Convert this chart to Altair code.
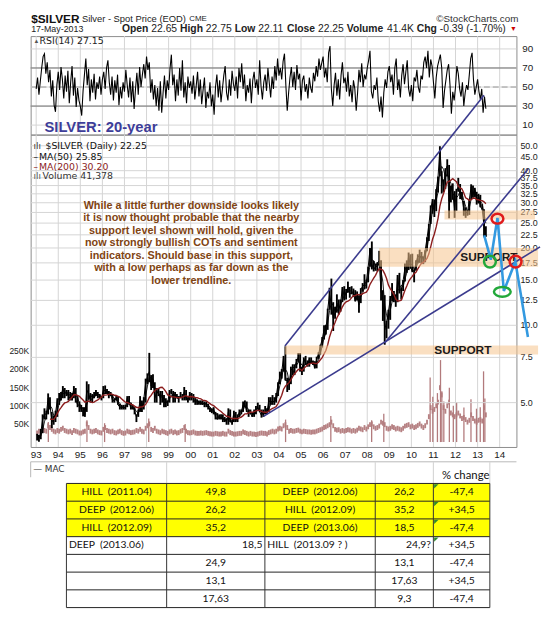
import altair as alt
import pandas as pd

# ------------------------------------------------------------------
# values
# ------------------------------------------------------------------
start_year = 1993  # monthly series start (Jan 1993)

close = [
    3.68, 3.62, 3.81, 4.30, 4.52, 4.50, 5.20, 4.90, 4.20, 4.30, 4.55, 5.10,
    5.20, 5.35, 5.65, 5.40, 5.50, 5.30, 5.20, 5.30, 5.65, 5.15, 4.90, 4.88,
    4.70, 4.60, 4.50, 5.60, 5.40, 5.10, 5.20, 5.35, 5.50, 5.30, 5.30, 5.20,
    5.60, 5.55, 5.50, 5.35, 5.40, 5.10, 5.10, 5.20, 4.90, 4.80, 4.80, 4.75,
    4.80, 5.20, 5.00, 4.75, 4.80, 4.65, 4.40, 4.60, 5.10, 4.80, 5.15, 5.95,
    6.30, 6.60, 5.80, 6.10, 5.20, 5.50, 5.45, 5.20, 5.30, 5.00, 5.00, 5.00,
    5.50, 5.50, 5.20, 5.40, 5.20, 5.20, 5.30, 5.20, 5.50, 5.20, 5.10, 5.40,
    5.30, 5.20, 5.00, 5.05, 5.00, 5.00, 4.90, 5.00, 4.90, 4.80, 4.70, 4.60,
    4.70, 4.40, 4.30, 4.40, 4.35, 4.30, 4.30, 4.20, 4.60, 4.20, 4.20, 4.55,
    4.25, 4.40, 4.60, 4.60, 4.90, 4.90, 4.60, 4.60, 4.55, 4.40, 4.60, 4.70,
    4.80, 4.60, 4.45, 4.60, 4.55, 4.60, 5.10, 5.00, 5.10, 5.00, 5.30, 5.90,
    6.30, 6.60, 7.50, 6.10, 6.10, 5.90, 6.70, 6.80, 6.90, 7.20, 7.50, 6.80,
    6.70, 7.40, 7.10, 7.00, 7.40, 7.10, 7.20, 6.80, 7.40, 7.70, 8.30, 8.80,
    9.60, 9.50, 11.50, 13.20, 12.00, 10.70, 11.20, 12.20, 11.50, 12.20, 14.00, 12.90,
    13.40, 14.10, 13.30, 13.40, 13.30, 12.40, 12.90, 12.00, 13.80, 14.20, 14.40, 14.80,
    16.80, 19.80, 17.30, 16.50, 16.90, 17.50, 17.80, 13.50, 12.90, 9.60, 10.30, 11.30,
    12.60, 13.10, 13.10, 12.30, 15.60, 13.60, 13.80, 14.90, 16.70, 16.40, 18.60, 16.90,
    16.20, 16.30, 17.50, 18.60, 18.40, 18.70, 18.00, 19.60, 21.80, 24.60, 28.50, 30.60,
    27.90, 33.40, 37.90, 48.60, 38.10, 34.70, 40.10, 41.70, 30.40, 34.80, 32.70, 28.20,
    33.20, 34.60, 32.30, 31.30, 28.30, 27.60, 27.40, 30.90, 34.60, 32.30, 33.80, 30.00,
    31.90, 29.00, 28.30, 24.30, 22.25,
]

high = [
    3.78, 3.75, 3.95, 4.50, 4.75, 4.65, 5.43, 5.25, 4.60, 4.45, 4.65, 5.20,
    5.45, 5.50, 5.80, 5.70, 5.60, 5.60, 5.50, 5.45, 5.80, 5.70, 5.30, 5.05,
    4.90, 4.80, 4.80, 6.05, 5.90, 5.45, 5.40, 5.50, 5.60, 5.50, 5.40, 5.30,
    5.80, 5.83, 5.65, 5.55, 5.50, 5.40, 5.20, 5.30, 5.30, 4.95, 4.90, 4.90,
    4.90, 5.30, 5.30, 5.00, 4.90, 4.80, 4.50, 4.70, 5.30, 5.10, 5.25, 6.20,
    6.50, 7.81, 6.40, 6.45, 6.00, 5.70, 5.70, 5.55, 5.55, 5.35, 5.20, 5.10,
    5.60, 5.65, 5.55, 5.50, 5.40, 5.30, 5.50, 5.40, 5.75, 5.60, 5.25, 5.50,
    5.45, 5.40, 5.20, 5.15, 5.10, 5.10, 5.10, 5.05, 5.05, 4.95, 4.80, 4.75,
    4.80, 4.60, 4.55, 4.50, 4.50, 4.50, 4.40, 4.35, 4.75, 4.70, 4.30, 4.65,
    4.60, 4.50, 4.70, 4.70, 5.05, 5.10, 5.05, 4.70, 4.70, 4.60, 4.70, 4.85,
    5.00, 4.90, 4.70, 4.70, 4.85, 4.75, 5.25, 5.25, 5.35, 5.25, 5.45, 6.00,
    6.60, 6.75, 7.60, 8.29, 6.25, 6.20, 6.90, 7.05, 7.05, 7.40, 7.80, 7.80,
    6.90, 7.50, 7.60, 7.30, 7.50, 7.50, 7.30, 7.25, 7.55, 7.85, 8.40, 9.00,
    10.00, 10.05, 11.60, 14.00, 15.20, 12.30, 11.80, 13.20, 12.60, 12.60, 14.10, 14.20,
    13.85, 14.80, 14.10, 14.20, 13.90, 13.70, 13.55, 13.10, 13.95, 14.60, 15.80, 15.05,
    16.90, 20.00, 21.20, 17.80, 17.40, 17.60, 19.50, 17.90, 13.70, 13.10, 10.40, 11.50,
    13.00, 14.60, 13.60, 13.20, 15.70, 16.00, 14.00, 15.00, 17.40, 17.90, 19.20, 18.90,
    19.00, 16.50, 17.90, 18.90, 19.70, 19.30, 18.50, 19.60, 22.00, 24.80, 29.30, 31.00,
    30.90, 33.90, 38.00, 49.80, 39.80, 37.00, 40.90, 44.30, 42.10, 35.00, 35.70, 33.30,
    34.00, 37.50, 35.50, 33.00, 30.50, 28.80, 28.00, 31.00, 35.40, 35.00, 34.30, 33.10,
    32.50, 32.20, 29.60, 28.30, 24.30,
]

low = [
    3.56, 3.52, 3.60, 3.80, 4.30, 4.30, 4.50, 4.70, 3.98, 4.10, 4.20, 4.40,
    4.90, 5.10, 5.20, 5.20, 5.30, 5.10, 5.10, 5.10, 5.20, 5.00, 4.80, 4.60,
    4.60, 4.42, 4.40, 4.60, 5.15, 5.00, 5.00, 5.20, 5.30, 5.20, 5.20, 5.10,
    5.20, 5.40, 5.40, 5.20, 5.30, 5.00, 5.00, 5.10, 4.90, 4.70, 4.70, 4.70,
    4.70, 4.80, 4.90, 4.70, 4.70, 4.50, 4.20, 4.40, 4.60, 4.60, 4.70, 5.00,
    5.90, 6.00, 5.60, 5.70, 5.00, 5.00, 5.30, 4.90, 5.00, 4.80, 4.80, 4.85,
    5.00, 5.40, 5.00, 5.00, 5.20, 5.00, 5.20, 5.10, 5.10, 5.10, 5.00, 5.10,
    5.10, 5.00, 4.90, 4.90, 4.90, 4.90, 4.90, 4.80, 4.80, 4.70, 4.60, 4.55,
    4.50, 4.30, 4.30, 4.30, 4.30, 4.20, 4.20, 4.10, 4.10, 4.20, 4.10, 4.20,
    4.20, 4.20, 4.40, 4.50, 4.60, 4.80, 4.60, 4.40, 4.50, 4.40, 4.40, 4.50,
    4.70, 4.60, 4.37, 4.40, 4.50, 4.50, 4.60, 4.90, 4.90, 4.90, 5.00, 5.30,
    5.90, 6.20, 6.60, 6.10, 5.50, 5.60, 5.90, 6.40, 6.40, 6.80, 7.20, 6.60,
    6.40, 6.60, 7.00, 6.90, 6.90, 7.10, 7.00, 6.80, 6.80, 7.40, 7.70, 8.20,
    8.80, 9.20, 9.60, 11.50, 11.00, 9.50, 10.60, 11.20, 11.00, 11.30, 12.30, 12.50,
    12.60, 13.40, 12.80, 13.20, 12.90, 12.40, 12.50, 11.20, 12.20, 13.50, 13.80, 13.90,
    14.70, 16.90, 16.50, 16.20, 16.30, 16.20, 17.10, 12.50, 10.40, 8.40, 8.90, 9.70,
    10.50, 12.40, 12.30, 11.80, 12.30, 13.30, 12.60, 13.60, 14.80, 16.00, 16.40, 16.60,
    16.10, 14.70, 16.30, 17.40, 17.50, 17.40, 17.30, 17.60, 19.40, 21.30, 24.80, 27.20,
    26.40, 27.80, 32.90, 38.00, 32.60, 33.00, 34.00, 38.00, 26.10, 30.10, 30.80, 26.20,
    27.90, 33.10, 31.00, 30.80, 26.70, 26.20, 26.70, 26.90, 30.90, 31.40, 31.60, 29.50,
    29.80, 28.80, 28.20, 22.00, 22.10,
]

volume_k = [
    25, 30, 28, 35, 32, 30, 45, 40, 35, 30, 28, 32,
    30, 35, 38, 32, 30, 28, 30, 26, 32, 30, 28, 25,
    25, 28, 30, 50, 40, 30, 28, 30, 32, 28, 26, 25,
    35, 40, 32, 30, 28, 30, 26, 25, 28, 30, 26, 24,
    25, 30, 28, 26, 27, 28, 32, 30, 35, 30, 28, 38,
    45, 50, 35, 32, 38, 30, 28, 26, 30, 28, 26, 24,
    28, 30, 26, 28, 25, 26, 30, 32, 40, 30, 26, 25,
    26, 28, 25, 24, 24, 25, 24, 25, 26, 24, 23, 22,
    22, 24, 23, 22, 22, 24, 22, 22, 30, 26, 24, 22,
    22, 23, 24, 24, 28, 26, 24, 22, 24, 22, 22, 21,
    22, 24, 25, 24, 24, 22, 26, 28, 30, 28, 30, 36,
    38, 36, 45, 48, 40, 30, 32, 30, 30, 32, 33, 30,
    28, 30, 29, 28, 28, 27, 28, 28, 30, 32, 34, 36,
    40, 42, 45, 48, 55, 45, 35, 33, 34, 30, 32, 30,
    32, 34, 33, 30, 32, 30, 33, 38, 36, 34, 40, 36,
    42, 48, 50, 42, 38, 40, 44, 55, 52, 48, 38, 36,
    38, 42, 40, 36, 38, 36, 34, 38, 44, 46, 48, 42,
    44, 40, 42, 46, 50, 44, 40, 45, 55, 70, 95, 85,
    90, 100, 110, 150, 130, 95, 85, 100, 110, 80, 75, 70,
    75, 80, 72, 65, 68, 62, 55, 60, 75, 65, 58, 55,
    60, 62, 58, 95, 75,
]

spike_year = [1993.55, 1995.30, 1996.10, 1998.10, 1999.75, 2004.30, 2006.35, 2008.20,
              2008.75, 2010.85, 2010.97, 2011.18, 2011.32, 2011.38, 2011.47, 2011.72,
              2011.90, 2012.05, 2012.38, 2012.70, 2012.95, 2013.12, 2013.27, 2013.33]
spike_k = [55, 60, 52, 65, 50, 62, 72, 60, 78, 178, 125, 135, 226, 140, 112, 150,
           100, 110, 95, 118, 92, 96, 195, 120]

rsi_per_year = 16
rsi = [
    48, 60, 42, 56, 70, 82, 85, 64, 76, 55, 68, 40, 57, 31, 24, 52,
    66, 47, 71, 58, 38, 62, 45, 67, 33, 55, 72, 41, 60, 29, 49, 36,
    30, 20, 46, 63, 80, 52, 69, 35, 58, 44, 64, 37, 55, 48, 61, 42,
    58, 66, 48, 70, 78, 55, 42, 61, 36, 57, 44, 63, 31, 50, 38, 55,
    45, 68, 52, 39, 60, 34, 56, 27, 48, 65, 42, 71, 50, 63, 74, 59,
    82, 68, 76, 44, 58, 37, 52, 30, 49, 25, 56, 23, 44, 62, 38, 57,
    47, 69, 84, 52, 63, 35, 58, 41, 70, 46, 78, 39, 55, 33, 61, 49,
    56, 43, 62, 37, 51, 66, 40, 58, 32, 47, 60, 28, 45, 38, 55, 30,
    42, 21, 50, 63, 39, 57, 34, 48, 62, 72, 44, 36, 58, 41, 67, 53,
    46, 61, 38, 70, 55, 75, 48, 63, 35, 52, 44, 59, 33, 57, 66, 49,
    58, 42, 78, 51, 37, 55, 63, 46, 70, 54, 39, 61, 48, 72, 57, 80,
    62, 70, 58, 77, 85, 52, 25, 44, 60, 71, 50, 66, 47, 73, 58, 64,
    36, 57, 62, 45, 53, 38, 60, 49, 44, 65, 56, 72, 61, 80, 68, 75,
    82, 60, 70, 55, 86, 93, 48, 30, 52, 65, 41, 58, 37, 62, 76, 54,
    60, 45, 66, 40, 52, 34, 57, 48, 25, 44, 68, 55, 75, 50, 63, 58,
    70, 78, 88, 45, 38, 52, 47, 60, 35, 24, 40, 18, 44, 58, 49, 66,
    72, 55, 63, 42, 70, 80, 47, 58, 39, 62, 74, 53, 66, 78, 48, 40,
    52, 35, 60, 56, 68, 50, 44, 62, 58, 76, 82, 70, 88, 60, 79, 72,
    55, 38, 60, 72, 78, 84, 70, 28, 46, 57, 68, 74, 52, 22, 45, 36,
    50, 72, 64, 48, 40, 55, 30, 44, 52, 47, 63, 80, 86, 58, 42, 50,
    58, 45, 37, 48, 23, 40, 27.15,
]
rsi_levels = [30, 70]
rsi_mid_level = [50]

# hand-drawn trend lines: start (year, price) -> end (year, price)
trend_id = ["upper", "middle", "lower"]
trend_t0 = [2004.27, 2008.80, 2003.30]
trend_p0 = [8.30, 8.55, 4.42]
trend_t1 = [2013.29, 2015.29, 2015.83]
trend_p1 = [78.7, 40.6, 20.2]

# hand-drawn projection path
proj_t = [2013.30, 2013.60, 2013.90, 2014.19, 2014.71, 2015.28]
proj_p = [22.4, 18.0, 26.2, 13.6, 17.7, 9.0]

# support bands
band_t0 = [2011.50, 2008.54, 2004.27]
band_t1 = [2015.60, 2015.74, 2015.74]
band_lo = [25.8, 16.9, 7.70]
band_hi = [28.0, 20.0, 8.35]

# table
tab_c1 = ["HILL\u00a0 (2011.04)", "DEEP\u00a0 (2012.06)", "HILL\u00a0 (2012.09)", "DEEP\u00a0 (2013.06)", "", "", ""]
tab_c2 = ["49,8", "26,2", "35,2", "18,5", "24,9", "13,1", "17,63"]
tab_c3 = ["DEEP\u00a0 (2012.06)", "HILL\u00a0 (2012.09)", "DEEP\u00a0 (2013.06)", "HILL\u00a0 (2013.09 ? )", "", "", ""]
tab_c4 = ["26,2", "35,2", "18,5", "24,9?", "13,1", "17,63", "9,3"]
tab_c5 = ["-47,4", "+34,5", "-47,4", "+34,5", "-47,4", "+34,5", "-47,4"]

price_ticks = [5, 7.5, 10, 12.5, 15, 17.5, 20, 22.5, 25, 27.5, 30, 32.5, 35, 37.5, 40, 45, 50]
volume_ticks = [50000, 100000, 150000, 200000, 250000]
rsi_ticks = [10, 30, 50, 70, 90]
year_ticks = list(range(1993, 2015))

paragraph = [
    "While a little further downside looks likely",
    "it is now thought probable that the nearby",
    "support level shown will hold, given the",
    "now strongly bullish COTs and sentiment",
    "indicators. Should base in this support,",
    "with a low perhaps as far down as the",
    "lower trendline.",
]

# ------------------------------------------------------------------
# layout / style
# ------------------------------------------------------------------
W = 493
RSI_H = 100
PRICE_H = 317
TABLE_H = 164
X_DOMAIN = [1992.75, 2014.76]
P_DOMAIN = [3.359, 55.25]
V_DOMAIN = [0, 834000]
R_DOMAIN = [0, 103.5]
TAB_Y_DOMAIN = [-2.056, 7.056]
TAB_EDGES = [36.3, 138.0, 237.7, 349.7, 408.7, 466.0]
TAB_ALIGN = [["c"] * 5] * 3 + [["l", "r", "l", "r", "c"]] + [["c"] * 5] * 3

FONT = "Liberation Sans"
GRID = "#d4d4d4"
TREND = "#3b3b8e"
PROJ = "#3399e0"
BAND = "#f5c48e"
VOLC = "#b27a7c"
LABC = "#222222"

xs = alt.Scale(domain=X_DOMAIN, nice=False, zero=False)
ps = alt.Scale(type="log", domain=P_DOMAIN, nice=False, zero=False)
vs = alt.Scale(domain=V_DOMAIN, nice=False, zero=False)
rs = alt.Scale(domain=R_DOMAIN, nice=False, zero=False)
one = pd.DataFrame({"k": [0]})


def px_text(text, x, y, size, color=LABC, weight="normal", align="left", font=FONT):
    return alt.Chart(one).mark_text(
        text=text, align=align, baseline="middle", fontSize=size,
        fontWeight=weight, color=color, font=font,
    ).encode(x=alt.value(x), y=alt.value(y))


def X(field="t"):
    return alt.X(f"{field}:Q", scale=xs, axis=None)


def P(field="p"):
    return alt.Y(f"{field}:Q", scale=ps, axis=None)


def data_text(t, p, text, size, color, weight="bold", align="center", baseline="middle", **kw):
    return alt.Chart(pd.DataFrame({"t": [t], "p": [p]})).mark_text(
        text=text, fontSize=size, color=color, fontWeight=weight, font=FONT,
        align=align, baseline=baseline, clip=False, **kw,
    ).encode(x=X(), y=P())


year_df = pd.DataFrame({"t": year_ticks})
year_grid = alt.Chart(year_df).mark_rule(color=GRID, strokeWidth=1).encode(x=X())

# ------------------------------------------------------------------
# RSI panel (with page header)
# ------------------------------------------------------------------
rsi_df = pd.DataFrame({"t": [start_year + i / rsi_per_year for i in range(len(rsi))], "v": rsi})
rsi_tick_df = pd.DataFrame({"v": rsi_ticks})

rsi_hgrid = alt.Chart(rsi_tick_df).mark_rule(color=GRID, strokeWidth=1).encode(
    y=alt.Y("v:Q", scale=rs, axis=None))
rsi_labels = alt.Chart(rsi_tick_df).mark_text(
    align="left", baseline="middle", fontSize=10, font=FONT, color=LABC, dx=6
).encode(x=alt.value(W), y=alt.Y("v:Q", scale=rs, axis=None), text="v:Q")
rsi_line = alt.Chart(rsi_df).mark_line(color="black", strokeWidth=1.1).encode(
    x=X(), y=alt.Y("v:Q", scale=rs, axis=None))
rsi_lv = alt.Chart(pd.DataFrame({"v": rsi_levels})).mark_rule(color="#707070", strokeWidth=1).encode(
    y=alt.Y("v:Q", scale=rs, axis=None))
rsi_mid = alt.Chart(pd.DataFrame({"v": rsi_mid_level})).mark_rule(
    color="#9a9a9a", strokeWidth=1, strokeDash=[6, 3]).encode(y=alt.Y("v:Q", scale=rs, axis=None))

silver_title = alt.Chart(pd.DataFrame({"t": [1993.375], "v": [8.3]})).mark_text(
    text="SILVER: 20-year", fontSize=15, fontWeight="bold", color="#3d3d99", font=FONT,
    align="left", baseline="middle").encode(
    x=X(), y=alt.Y("v:Q", scale=rs, axis=None))

L1 = -17.5
L2 = -7.0
header = [
    px_text("$SILVER", 0.5, L1, 12, "#111111", "bold"),
    px_text("Silver - Spot Price (EOD)", 52, L1, 9.5),
    px_text("CME", 161, L1 + 0.5, 8),
    px_text("\u00a9StockCharts.com", 495, L1, 10, "#333333", align="right"),
    px_text("17-May-2013", 0.5, L2, 9),
    px_text("Open", 92.7, L2, 10.5, weight="bold"),
    px_text("22.65", 122.4, L2, 10.5),
    px_text("High", 151.6, L2, 10.5, weight="bold"),
    px_text("22.75", 177.8, L2, 10.5),
    px_text("Low", 207.0, L2, 10.5, weight="bold"),
    px_text("22.11", 230.9, L2, 10.5),
    px_text("Close", 260.1, L2, 10.5, weight="bold"),
    px_text("22.25", 291.6, L2, 10.5),
    px_text("Volume", 320.8, L2, 10.5, weight="bold"),
    px_text("41.4K", 361.6, L2, 10.5),
    px_text("Chg", 391.9, L2, 10.5, weight="bold"),
    px_text("-0.39 (-1.70%)", 415.2, L2, 10.5),
    px_text("\u25bc", 490, L2, 7, "#cc0000", align="center"),
    px_text("\u25b2", 3, 5, 6, "#555555"),
    px_text("RSI(14) 27.15", 9, 5, 9.5, "#222222", font="DejaVu Sans"),
]

rsi_chart = alt.layer(year_grid, rsi_hgrid, rsi_mid, rsi_lv, rsi_line, rsi_labels,
                      silver_title, *header).properties(width=W, height=RSI_H)

# ------------------------------------------------------------------
# price panel
# ------------------------------------------------------------------
n = len(close)
price_df = pd.DataFrame({
    "t": [start_year + (i + 0.5) / 12 for i in range(n)],
    "close": close, "high": high, "low": low,
})
vol_df = pd.DataFrame({
    "t": [start_year + i / 12 for i in range(n)],
    "t1": [start_year + (i + 1) / 12 for i in range(n)],
    "v": [k * 1000 for k in volume_k],
})
spike_df = pd.DataFrame({"t": spike_year, "v": [k * 1000 for k in spike_k]})
ptick_df = pd.DataFrame({"p": price_ticks})
vtick_df = pd.DataFrame({"v": volume_ticks})

# volume sub-layer (own y scale)
vol_bars = alt.Chart(vol_df).mark_bar(color=VOLC, opacity=0.95).encode(
    x=X(), x2="t1:Q", y=alt.Y("v:Q", scale=vs, axis=None))
vol_spikes = alt.Chart(spike_df).mark_rule(color=VOLC, strokeWidth=1.3).encode(
    x=X(), y=alt.Y("v:Q", scale=vs, axis=None), y2=alt.datum(0))
vol_labels = alt.Chart(vtick_df).transform_calculate(
    lab="format(datum.v / 1000, 'd') + 'K'"
).mark_text(align="right", baseline="middle", fontSize=8.6, font=FONT, color=LABC, dx=-1.5).encode(
    x=alt.value(0), y=alt.Y("v:Q", scale=vs, axis=None), text="lab:N")
year_labels = alt.Chart(year_df).transform_calculate(
    lab="substring(format(datum.t, 'd'), 2, 4)"
).mark_text(align="center", baseline="middle", fontSize=10, font=FONT, color=LABC).encode(
    x=X(), y=alt.value(PRICE_H + 8), text="lab:N")
vol_layer = alt.layer(year_grid, vol_bars, vol_spikes, vol_labels, year_labels)

p_hgrid = alt.Chart(ptick_df).mark_rule(color=GRID, strokeWidth=1).encode(y=P())
p_labels = alt.Chart(ptick_df).transform_calculate(
    lab="format(datum.p, '.1f')"
).mark_text(align="left", baseline="middle", fontSize=9, font=FONT, color=LABC, dx=4).encode(
    x=alt.value(W), y=P(), text="lab:N")

bars = alt.Chart(price_df).mark_rule(color="black", strokeWidth=1.9).encode(
    x=X(), y=P("low"), y2="high:Q")
close_line = alt.Chart(price_df).mark_line(color="black", strokeWidth=1.0).encode(x=X(), y=P("close"))
ma_base = alt.Chart(price_df).transform_window(
    ma50="mean(close)", frame=[-2, 0], sort=[{"field": "t"}]
).transform_window(
    ma200="mean(close)", frame=[-9, 0], sort=[{"field": "t"}]
)
ma50 = ma_base.mark_line(color="black", strokeWidth=0.9).encode(x=X(), y=P("ma50"))
ma200 = ma_base.transform_filter("datum.t > 1993.6").mark_line(
    color="#8b1c1c", strokeWidth=1.4).encode(x=X(), y=P("ma200"))

band_df = pd.DataFrame({"t": band_t0, "t1": band_t1, "p": band_lo, "p1": band_hi})
bands = alt.Chart(band_df).mark_rect(color=BAND, opacity=0.55, clip=False).encode(
    x=X(), x2="t1:Q", y=P(), y2="p1:Q")

support_mid = data_text(2013.51, 18.5, "SUPPORT", 12, "#1a1a1a")
support_low = data_text(2012.33, 8.0, "SUPPORT", 12, "#1a1a1a")

trend_df = pd.DataFrame({
    "id": trend_id + trend_id,
    "t": trend_t0 + trend_t1,
    "p": trend_p0 + trend_p1,
})
trends = alt.Chart(trend_df).mark_line(color=TREND, strokeWidth=1.6, clip=False).encode(
    x=X(), y=P(), detail="id:N")

proj_df = pd.DataFrame({"t": proj_t, "p": proj_p, "o": list(range(len(proj_t)))})
proj = alt.Chart(proj_df).mark_line(color=PROJ, strokeWidth=2.6, clip=False).encode(
    x=X(), y=P(), order="o:Q")


def ring(t, p, w, h, color):
    ry = h / w
    path = f"M -1 0 A 1 {ry:.3f} 0 1 1 1 0 A 1 {ry:.3f} 0 1 1 -1 0 Z"
    return alt.Chart(pd.DataFrame({"t": [t], "p": [p]})).mark_point(
        shape=path, size=w * w, filled=False, stroke=color, strokeWidth=2.5,
        opacity=1, clip=False).encode(x=X(), y=P())


rings = [
    ring(2013.90, 26.0, 12, 10, "#e01b1b"),
    ring(2014.72, 17.7, 12, 12, "#e01b1b"),
    ring(2013.56, 17.7, 12, 12, "#22a83a"),
    ring(2014.12, 13.5, 17, 10, "#22a83a"),
]

para = data_text(2000.03, 30.8, paragraph, 11, "#7f4412", baseline="top", lineHeight=12.7)

legend = [
    px_text("\u0131l\u0131", 3, 12, 9, "#333333", font="DejaVu Sans"),
    px_text("$SILVER (Daily) 22.25", 15, 12, 9.5, "#111111", font="DejaVu Sans"),
    px_text("\u2013", 3, 22.5, 9, "#111111", font="DejaVu Sans"),
    px_text("MA(50) 25.85", 8.5, 22.5, 9.5, "#111111", font="DejaVu Sans"),
    px_text("\u2013", 3, 32.5, 9, "#8b1c1c", font="DejaVu Sans"),
    px_text("MA(200) 30.20", 8.5, 32.5, 9.5, "#8b1c1c", font="DejaVu Sans"),
    px_text("\u0131l\u0131", 3, 42, 9, "#555555", font="DejaVu Sans"),
    px_text("Volume 41,378", 12, 42, 9.5, "#333333", font="DejaVu Sans"),
]

price_layer = alt.layer(p_hgrid, p_labels, bars, close_line, ma50, ma200, bands,
                        support_mid, support_low, trends, proj, *rings, para, *legend)

price_chart = alt.layer(vol_layer, price_layer).resolve_scale(y="independent").properties(
    width=W, height=PRICE_H)

# ------------------------------------------------------------------
# MACD stub + table panel
# ------------------------------------------------------------------
txs = alt.Scale(domain=[0, W], nice=False, zero=False)
tys = alt.Scale(domain=TAB_Y_DOMAIN, nice=False, zero=False, reverse=True)


def TX(f="x"):
    return alt.X(f"{f}:Q", scale=txs, axis=None)


def TY(f="y"):
    return alt.Y(f"{f}:Q", scale=tys, axis=None)


cols = [tab_c1, tab_c2, tab_c3, tab_c4, tab_c5]
cells = {"c": [], "l": [], "r": []}
for r in range(len(tab_c1)):
    for c in range(5):
        txt = cols[c][r]
        if not txt:
            continue
        a = TAB_ALIGN[r][c]
        x0, x1 = TAB_EDGES[c], TAB_EDGES[c + 1]
        xpos = (x0 + x1) / 2 if a == "c" else (x0 + 2.5 if a == "l" else x1 - 2.5)
        cells[a].append({"x": xpos, "y": r + 0.5, "txt": txt})

n_rows = len(tab_c1)
yellow = alt.Chart(pd.DataFrame({"x": [TAB_EDGES[0]], "x2": [TAB_EDGES[-1]], "y": [0], "y2": [3]})).mark_rect(
    color="#ffff00").encode(x=TX(), x2="x2:Q", y=TY(), y2="y2:Q")
hlines = alt.Chart(pd.DataFrame({"y": list(range(n_rows + 1)), "x": [TAB_EDGES[0]] * (n_rows + 1),
                                 "x2": [TAB_EDGES[-1]] * (n_rows + 1)})).mark_rule(
    color="#222222", strokeWidth=1).encode(x=TX(), x2="x2:Q", y=TY())
vlines = alt.Chart(pd.DataFrame({"x": TAB_EDGES, "y": [0] * 6, "y2": [n_rows] * 6})).mark_rule(
    color="#333333", strokeWidth=1).encode(x=TX(), y=TY(), y2="y2:Q")
faint = alt.Chart(pd.DataFrame({"x": TAB_EDGES[1:], "y": [-1.2] * 5, "y2": [0] * 5})).mark_rule(
    color="#d0d0d0", strokeWidth=1).encode(x=TX(), y=TY(), y2="y2:Q")
macd_top = alt.Chart(pd.DataFrame({"x": [0], "x2": [W], "y": [-1.22]})).mark_rule(
    color="#b8b8b8", strokeWidth=1).encode(x=TX(), x2="x2:Q", y=TY())
macd_left = alt.Chart(pd.DataFrame({"x": [0], "y": [-1.22], "y2": [-0.35]})).mark_rule(
    color="#b8b8b8", strokeWidth=1).encode(x=TX(), y=TY(), y2="y2:Q")
macd_lbl = alt.Chart(pd.DataFrame({"x": [2.5], "y": [-0.8]})).mark_text(
    text="\u2014 MAC", align="left", baseline="middle", fontSize=9, font="DejaVu Sans",
    color="#333333").encode(x=TX(), y=TY())
pct = alt.Chart(pd.DataFrame({"x": [441.5], "y": [-0.4]})).mark_text(
    text="% change", align="center", baseline="middle", fontSize=11.5, font="Lato",
    color="#111111").encode(x=TX(), y=TY())
tri = alt.Chart(pd.DataFrame({"x": [TAB_EDGES[4]] * 4, "y": [0, 1, 2, 3]})).mark_point(
    shape="M -1 -1 L 1 -1 L -1 1 Z", size=20, filled=True, color="#2e8b2e", opacity=1,
    xOffset=3, yOffset=3).encode(x=TX(), y=TY())

cell_layers = []
for a, al in (("c", "center"), ("l", "left"), ("r", "right")):
    if cells[a]:
        cell_layers.append(
            alt.Chart(pd.DataFrame(cells[a])).mark_text(
                align=al, baseline="middle", fontSize=10.5, font="Lato", color="#111111"
            ).encode(x=TX(), y=TY(), text="txt:N"))

table_chart = alt.layer(macd_top, macd_left, macd_lbl, faint, yellow, hlines, vlines, tri, pct,
                        *cell_layers).properties(
    width=W, height=TABLE_H, view=alt.ViewBackground(strokeOpacity=0))

# ------------------------------------------------------------------
chart = alt.vconcat(rsi_chart, price_chart, table_chart, spacing=0, bounds="flush").properties(
    padding={"left": 0, "top": 0, "right": 2, "bottom": 2}
).configure_view(stroke="#8c8c8c")

chart.save("out.html", embed_options={"renderer": "svg", "actions": False})
